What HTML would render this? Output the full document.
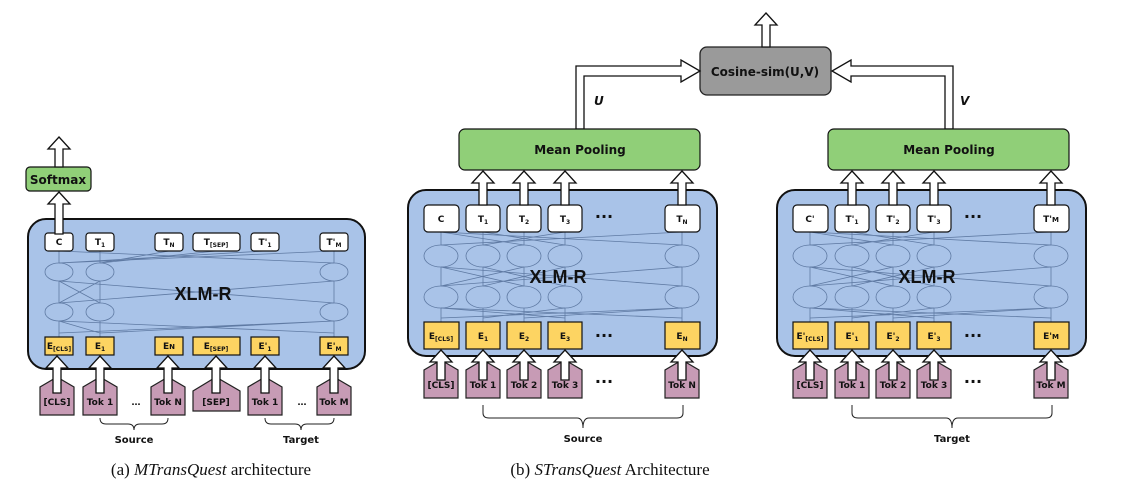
<!DOCTYPE html>
<html><head><meta charset="utf-8"><style>
html,body{margin:0;padding:0;background:#fff;}
svg{display:block;}
.b{font-family:"DejaVu Sans","Liberation Sans",sans-serif;font-weight:bold;fill:#111;}
.x{font-family:"Liberation Sans",sans-serif;font-weight:bold;fill:#111;}
.s{font-size:9px;}
.cap{font-family:"Liberation Serif",serif;font-size:17px;fill:#111;}
</style></head><body>
<svg width="1132" height="493" viewBox="0 0 1132 493" xmlns="http://www.w3.org/2000/svg">
<defs>
<path id="a37" d="M0,0 L11,12 L4,12 L4,37 L-4,37 L-4,12 L-11,12 Z" fill="#fff" stroke="#111" stroke-width="1.3"/>
<path id="a30" d="M0,0 L11,12 L4,12 L4,30 L-4,30 L-4,12 L-11,12 Z" fill="#fff" stroke="#111" stroke-width="1.3"/>
<path id="a34" d="M0,0 L11,12 L4,12 L4,34 L-4,34 L-4,12 L-11,12 Z" fill="#fff" stroke="#111" stroke-width="1.3"/>
<path id="a42" d="M0,0 L11,12 L4,12 L4,42 L-4,42 L-4,12 L-11,12 Z" fill="#fff" stroke="#111" stroke-width="1.3"/>
<path id="pl" d="M0,0 L17,10 L17,38 L-17,38 L-17,10 Z" fill="#c79bb5" stroke="#222" stroke-width="1.2"/>
</defs>

<!-- ===== (a) ===== -->
<rect x="28" y="219" width="337" height="150" rx="18" fill="#a9c3e8" stroke="#111" stroke-width="2"/>
<g fill="none" stroke="#5f7aa3" stroke-width="0.8">
<ellipse cx="59" cy="272" rx="14" ry="9"/><ellipse cx="100" cy="272" rx="14" ry="9"/><ellipse cx="334" cy="272" rx="14" ry="9"/>
<ellipse cx="59" cy="312" rx="14" ry="9"/><ellipse cx="100" cy="312" rx="14" ry="9"/><ellipse cx="334" cy="312" rx="14" ry="9"/>
<path d="M59,337L59,321M100,337L100,321M334,337L334,321M59,303L59,281M100,303L100,281M334,303L334,281M59,263L59,251M100,263L100,251M334,263L334,251"/>
<path d="M59,333L334,321M100,333L59,321M334,333L59,321M100,333L334,321M59,303L334,281M334,303L59,281M59,303L100,281M100,303L59,281M59,263L334,251M334,263L59,251M100,263L169,251M100,263L216,251M59,263L265,251"/>
</g>
<text x="203" y="300" text-anchor="middle" class="x" font-size="18">XLM-R</text>
<g fill="#fff" stroke="#111" stroke-width="1.2">
<rect x="45" y="233" width="28" height="18" rx="3"/><rect x="86" y="233" width="28" height="18" rx="3"/><rect x="155" y="233" width="28" height="18" rx="3"/><rect x="193" y="233" width="47" height="18" rx="3"/><rect x="251" y="233" width="28" height="18" rx="3"/><rect x="320" y="233" width="28" height="18" rx="3"/>
</g>
<g class="b s" text-anchor="middle">
<text x="59" y="245">C</text><text x="100" y="245">T<tspan font-size="6" dy="2">1</tspan></text><text x="169" y="245">T<tspan font-size="6" dy="2">N</tspan></text><text x="216" y="245">T<tspan font-size="6" dy="2">[SEP]</tspan></text><text x="265" y="245">T'<tspan font-size="6" dy="2">1</tspan></text><text x="334" y="245">T'<tspan font-size="6" dy="2">M</tspan></text>
</g>
<g fill="#fdd462" stroke="#111" stroke-width="1.2">
<rect x="45" y="337" width="28" height="18"/><rect x="86" y="337" width="28" height="18"/><rect x="155" y="337" width="28" height="18"/><rect x="193" y="337" width="47" height="18"/><rect x="251" y="337" width="28" height="18"/><rect x="320" y="337" width="28" height="18"/>
</g>
<g class="b s" text-anchor="middle">
<text x="59" y="349">E<tspan font-size="6" dy="2">[CLS]</tspan></text><text x="100" y="349">E<tspan font-size="6" dy="2">1</tspan></text><text x="169" y="349">E<tspan font-size="7">N</tspan></text><text x="216" y="349">E<tspan font-size="6" dy="2">[SEP]</tspan></text><text x="265" y="349">E'<tspan font-size="6" dy="2">1</tspan></text><text x="334" y="349">E'<tspan font-size="6" dy="2">M</tspan></text>
</g>
<rect x="26" y="167" width="65" height="24" rx="4" fill="#90cf78" stroke="#111" stroke-width="1.2"/>
<text x="58" y="184" text-anchor="middle" class="b" font-size="12">Softmax</text>
<use href="#a42" x="59" y="192"/>
<use href="#a30" x="59" y="137"/>
<g>
<use href="#pl" x="57" y="377"/><use href="#pl" x="100" y="377"/><use href="#pl" x="168" y="377"/>
<path d="M216,377 L240,391 L240,411 L193,411 L193,391 Z" fill="#c79bb5" stroke="#222" stroke-width="1.2"/>
<use href="#pl" x="265" y="377"/><use href="#pl" x="334" y="377"/>
</g>
<use href="#a37" x="57" y="356"/><use href="#a37" x="100" y="356"/><use href="#a37" x="168" y="356"/><use href="#a37" x="216" y="356"/><use href="#a37" x="265" y="356"/><use href="#a37" x="334" y="356"/>
<g class="b s" text-anchor="middle">
<text x="57" y="405">[CLS]</text><text x="100" y="405">Tok 1</text><text x="168" y="405">Tok N</text><text x="216" y="405">[SEP]</text><text x="265" y="405">Tok 1</text><text x="334" y="405">Tok M</text>
<text x="136" y="405">…</text><text x="302" y="405">…</text>
<text x="134" y="443" font-size="10">Source</text><text x="301" y="443" font-size="10">Target</text>
</g>
<path d="M100,418 Q100,424 106,424 L128,424 Q134,424 134,430 Q134,424 140,424 L162,424 Q168,424 168,418 M265,418 Q265,424 271,424 L295,424 Q301,424 301,430 Q301,424 307,424 L328,424 Q334,424 334,418" fill="none" stroke="#222" stroke-width="1"/>
<text x="211" y="475" text-anchor="middle" class="cap">(a) <tspan font-style="italic">MTransQuest</tspan> architecture</text>

<!-- ===== (b) top ===== -->
<rect x="700" y="47" width="131" height="48" rx="7" fill="#9a9a9a" stroke="#222" stroke-width="1.3"/>
<text x="765" y="76" text-anchor="middle" class="b" font-size="12">Cosine-sim(U,V)</text>
<use href="#a34" x="766" y="13"/>
<path d="M576,129 L576,66 L681,66 L681,60 L700,71 L681,82 L681,76 L584,76 L584,129 Z" fill="#fff" stroke="#111" stroke-width="1.3"/>
<path d="M953,129 L953,66 L851,66 L851,60 L832,71 L851,82 L851,76 L945,76 L945,129 Z" fill="#fff" stroke="#111" stroke-width="1.3"/>
<text x="594" y="105" class="b" font-size="12" font-style="italic">U</text>
<text x="960" y="105" class="b" font-size="12" font-style="italic">V</text>

<!-- middle panel -->
<g>
<rect x="459" y="129" width="241" height="41" rx="6" fill="#90cf78" stroke="#111" stroke-width="1.2"/>
<text x="580" y="154" text-anchor="middle" class="b" font-size="12">Mean Pooling</text>
<rect x="408" y="190" width="309" height="166" rx="18" fill="#a9c3e8" stroke="#111" stroke-width="2"/>
<g fill="none" stroke="#5f7aa3" stroke-width="0.8">
<ellipse cx="441" cy="256" rx="17" ry="11"/><ellipse cx="483" cy="256" rx="17" ry="11"/><ellipse cx="524" cy="256" rx="17" ry="11"/><ellipse cx="565" cy="256" rx="17" ry="11"/><ellipse cx="682" cy="256" rx="17" ry="11"/>
<ellipse cx="441" cy="297" rx="17" ry="11"/><ellipse cx="483" cy="297" rx="17" ry="11"/><ellipse cx="524" cy="297" rx="17" ry="11"/><ellipse cx="565" cy="297" rx="17" ry="11"/><ellipse cx="682" cy="297" rx="17" ry="11"/>
<path d="M441,322L441,308M483,322L483,308M524,322L524,308M565,322L565,308M682,322L682,308M441,286L441,267M483,286L483,267M524,286L524,267M565,286L565,267M682,286L682,267M441,245L441,232M483,245L483,232M524,245L524,232M565,245L565,232M682,245L682,232"/>
<path d="M441,318L682,308M682,318L441,308M483,318L565,308M565,318L441,308M524,318L682,308M441,286L682,267M682,286L441,267M483,286L565,267M565,286L483,267M441,286L524,267M524,286L441,267M441,245L682,232M682,245L441,232M483,245L565,232M565,245L483,232M524,245L441,232"/>
</g>
<text x="558" y="283" text-anchor="middle" class="x" font-size="18">XLM-R</text>
<g fill="#fff" stroke="#111" stroke-width="1.2">
<rect x="424" y="205" width="35" height="27" rx="4"/><rect x="466" y="205" width="34" height="27" rx="4"/><rect x="507" y="205" width="34" height="27" rx="4"/><rect x="548" y="205" width="34" height="27" rx="4"/><rect x="665" y="205" width="35" height="27" rx="4"/>
</g>
<g fill="#fdd462" stroke="#111" stroke-width="1.2">
<rect x="424" y="322" width="35" height="27"/><rect x="466" y="322" width="34" height="27"/><rect x="507" y="322" width="34" height="27"/><rect x="548" y="322" width="34" height="27"/><rect x="665" y="322" width="35" height="27"/>
</g>
<g class="b s" text-anchor="middle">
<text x="441" y="222">C</text><text x="483" y="222">T<tspan font-size="6" dy="2">1</tspan></text><text x="524" y="222">T<tspan font-size="6" dy="2">2</tspan></text><text x="565" y="222">T<tspan font-size="6" dy="2">3</tspan></text><text x="682" y="222">T<tspan font-size="6" dy="2">N</tspan></text>
<text x="441" y="339">E<tspan font-size="6" dy="2">[CLS]</tspan></text><text x="483" y="339">E<tspan font-size="6" dy="2">1</tspan></text><text x="524" y="339">E<tspan font-size="6" dy="2">2</tspan></text><text x="565" y="339">E<tspan font-size="6" dy="2">3</tspan></text><text x="682" y="339">E<tspan font-size="6" dy="2">N</tspan></text>
<text x="604" y="222" font-size="16">···</text><text x="604" y="341" font-size="16">···</text><text x="604" y="387" font-size="16">···</text>
</g>
<use href="#a34" x="483" y="171"/><use href="#a34" x="524" y="171"/><use href="#a34" x="565" y="171"/><use href="#a34" x="682" y="171"/>
<use href="#pl" x="441" y="360"/><use href="#pl" x="483" y="360"/><use href="#pl" x="524" y="360"/><use href="#pl" x="565" y="360"/><use href="#pl" x="682" y="360"/>
<use href="#a30" x="441" y="350"/><use href="#a30" x="483" y="350"/><use href="#a30" x="524" y="350"/><use href="#a30" x="565" y="350"/><use href="#a30" x="682" y="350"/>
<g class="b s" text-anchor="middle">
<text x="441" y="388">[CLS]</text><text x="483" y="388">Tok 1</text><text x="524" y="388">Tok 2</text><text x="565" y="388">Tok 3</text><text x="682" y="388">Tok N</text>
<text x="583" y="442" font-size="10">Source</text>
</g>
<path d="M483,405 L483,413 Q483,418 489,418 L577,418 Q583,418 583,428 Q583,418 589,418 L677,418 Q683,418 683,413 L683,405" fill="none" stroke="#222" stroke-width="1"/>
</g>

<!-- right panel -->
<g transform="translate(369,0)">
<rect x="459" y="129" width="241" height="41" rx="6" fill="#90cf78" stroke="#111" stroke-width="1.2"/>
<text x="580" y="154" text-anchor="middle" class="b" font-size="12">Mean Pooling</text>
<rect x="408" y="190" width="309" height="166" rx="18" fill="#a9c3e8" stroke="#111" stroke-width="2"/>
<g fill="none" stroke="#5f7aa3" stroke-width="0.8">
<ellipse cx="441" cy="256" rx="17" ry="11"/><ellipse cx="483" cy="256" rx="17" ry="11"/><ellipse cx="524" cy="256" rx="17" ry="11"/><ellipse cx="565" cy="256" rx="17" ry="11"/><ellipse cx="682" cy="256" rx="17" ry="11"/>
<ellipse cx="441" cy="297" rx="17" ry="11"/><ellipse cx="483" cy="297" rx="17" ry="11"/><ellipse cx="524" cy="297" rx="17" ry="11"/><ellipse cx="565" cy="297" rx="17" ry="11"/><ellipse cx="682" cy="297" rx="17" ry="11"/>
<path d="M441,322L441,308M483,322L483,308M524,322L524,308M565,322L565,308M682,322L682,308M441,286L441,267M483,286L483,267M524,286L524,267M565,286L565,267M682,286L682,267M441,245L441,232M483,245L483,232M524,245L524,232M565,245L565,232M682,245L682,232"/>
<path d="M441,318L682,308M682,318L441,308M483,318L565,308M565,318L441,308M524,318L682,308M441,286L682,267M682,286L441,267M483,286L565,267M565,286L483,267M441,286L524,267M524,286L441,267M441,245L682,232M682,245L441,232M483,245L565,232M565,245L483,232M524,245L441,232"/>
</g>
<text x="558" y="283" text-anchor="middle" class="x" font-size="18">XLM-R</text>
<g fill="#fff" stroke="#111" stroke-width="1.2">
<rect x="424" y="205" width="35" height="27" rx="4"/><rect x="466" y="205" width="34" height="27" rx="4"/><rect x="507" y="205" width="34" height="27" rx="4"/><rect x="548" y="205" width="34" height="27" rx="4"/><rect x="665" y="205" width="35" height="27" rx="4"/>
</g>
<g fill="#fdd462" stroke="#111" stroke-width="1.2">
<rect x="424" y="322" width="35" height="27"/><rect x="466" y="322" width="34" height="27"/><rect x="507" y="322" width="34" height="27"/><rect x="548" y="322" width="34" height="27"/><rect x="665" y="322" width="35" height="27"/>
</g>
<g class="b s" text-anchor="middle">
<text x="441" y="222">C'</text><text x="483" y="222">T'<tspan font-size="6" dy="2">1</tspan></text><text x="524" y="222">T'<tspan font-size="6" dy="2">2</tspan></text><text x="565" y="222">T'<tspan font-size="6" dy="2">3</tspan></text><text x="682" y="222">T'<tspan font-size="7">M</tspan></text>
<text x="441" y="339">E'<tspan font-size="6" dy="2">[CLS]</tspan></text><text x="483" y="339">E'<tspan font-size="6" dy="2">1</tspan></text><text x="524" y="339">E'<tspan font-size="6" dy="2">2</tspan></text><text x="565" y="339">E'<tspan font-size="6" dy="2">3</tspan></text><text x="682" y="339">E'<tspan font-size="7">M</tspan></text>
<text x="604" y="222" font-size="16">···</text><text x="604" y="341" font-size="16">···</text><text x="604" y="387" font-size="16">···</text>
</g>
<use href="#a34" x="483" y="171"/><use href="#a34" x="524" y="171"/><use href="#a34" x="565" y="171"/><use href="#a34" x="682" y="171"/>
<use href="#pl" x="441" y="360"/><use href="#pl" x="483" y="360"/><use href="#pl" x="524" y="360"/><use href="#pl" x="565" y="360"/><use href="#pl" x="682" y="360"/>
<use href="#a30" x="441" y="350"/><use href="#a30" x="483" y="350"/><use href="#a30" x="524" y="350"/><use href="#a30" x="565" y="350"/><use href="#a30" x="682" y="350"/>
<g class="b s" text-anchor="middle">
<text x="441" y="388">[CLS]</text><text x="483" y="388">Tok 1</text><text x="524" y="388">Tok 2</text><text x="565" y="388">Tok 3</text><text x="682" y="388">Tok M</text>
<text x="583" y="442" font-size="10">Target</text>
</g>
<path d="M483,405 L483,413 Q483,418 489,418 L577,418 Q583,418 583,428 Q583,418 589,418 L677,418 Q683,418 683,413 L683,405" fill="none" stroke="#222" stroke-width="1"/>
</g>

<text x="610" y="475" text-anchor="middle" class="cap">(b) <tspan font-style="italic">STransQuest</tspan> Architecture</text>
</svg>
</body></html>
